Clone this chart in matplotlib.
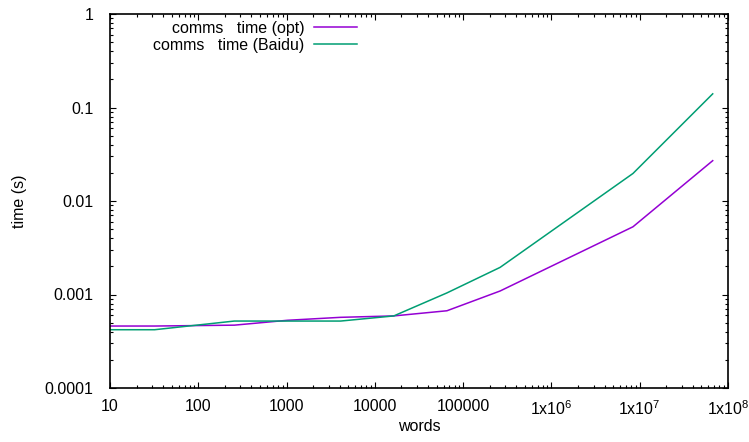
import matplotlib
matplotlib.use('Agg')
import matplotlib.pyplot as plt
from matplotlib.ticker import FixedLocator, FixedFormatter, LogLocator, NullFormatter

# data (words, seconds)
words = [8, 32, 256, 1024, 4096, 16384, 65536, 262144, 8388608, 67108864]
opt_time = [0.00046, 0.00046, 0.00047, 0.00053, 0.00057, 0.00059, 0.00067,
            0.00109, 0.0053, 0.027]
baidu_time = [0.00042, 0.00042, 0.00052, 0.00052, 0.00052, 0.00059, 0.00104,
              0.00195, 0.0197, 0.14]

x_ticks = [10, 100, 1000, 10000, 100000, 1e6, 1e7, 1e8]
x_tick_labels = ['10', '100', '1000', '10000', '100000',
                 r'$\mathregular{1x10^{6}}$', r'$\mathregular{1x10^{7}}$',
                 r'$\mathregular{1x10^{8}}$']
y_ticks = [0.0001, 0.001, 0.01, 0.1, 1]
y_tick_labels = ['0.0001', '0.001', '0.01', '0.1', '1']

plt.rcParams['font.family'] = ['Liberation Sans', 'DejaVu Sans']
plt.rcParams['mathtext.fontset'] = 'custom'
plt.rcParams['mathtext.rm'] = 'Liberation Sans'
plt.rcParams['font.size'] = 11.5

fig = plt.figure(figsize=(7.49, 4.42), dpi=100)
ax = fig.add_axes([110 / 749, 1 - 388 / 442, 618 / 749, 374 / 442])

ax.plot(words, opt_time, color='#9400d3', lw=1.1, label='comms   time (opt)')
ax.plot(words, baidu_time, color='#009e73', lw=1.1, label='comms   time (Baidu)')

ax.set_xscale('log')
ax.set_yscale('log')
ax.set_xlim(10, 1e8)
ax.set_ylim(0.0001, 1)

ax.xaxis.set_major_locator(FixedLocator(x_ticks))
ax.xaxis.set_major_formatter(FixedFormatter(x_tick_labels))
ax.yaxis.set_major_locator(FixedLocator(y_ticks))
ax.yaxis.set_major_formatter(FixedFormatter(y_tick_labels))
for axis in (ax.xaxis, ax.yaxis):
    axis.set_minor_locator(LogLocator(base=10, subs=range(2, 10), numticks=20))
    axis.set_minor_formatter(NullFormatter())

ax.tick_params(which='both', direction='in', top=True, right=True, width=0.8)
ax.tick_params(which='major', length=4.5)
ax.tick_params(which='minor', length=2.5)
ax.tick_params(axis='x', which='major', pad=8)
ax.tick_params(axis='y', which='major', pad=12)
for sp in ax.spines.values():
    sp.set_linewidth(1.2)

ax.set_xlabel('words')
ax.set_ylabel('time (s)')
ax.xaxis.set_label_coords(0.5, -0.084)
ax.yaxis.set_label_coords(-0.135, 0.5)

ax.legend(loc='upper right', bbox_to_anchor=(357 / 749, 1 - 21 / 442),
          bbox_transform=fig.transFigure, frameon=False, markerfirst=False,
          handlelength=2.7, handletextpad=0.6, labelspacing=0.1, borderpad=0,
          borderaxespad=0)

fig.savefig('out.png', dpi=100)
plt.close()
